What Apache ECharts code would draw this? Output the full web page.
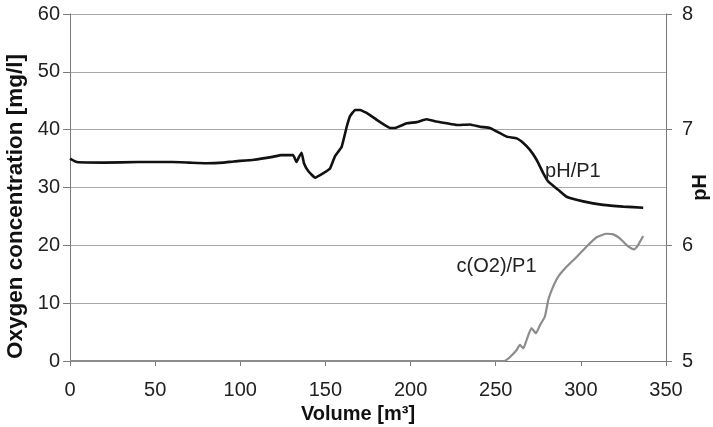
<!DOCTYPE html>
<html><head><meta charset="utf-8">
<script src="https://cdn.jsdelivr.net/npm/echarts@6/dist/echarts.min.js"></script>
<style>html,body{margin:0;padding:0;background:#fff}#c{width:713px;height:427px}</style>
</head><body><div id="c"></div>
<script>
// pH/P1 series (volume m3, pH)
const phVolume = [0,4,20,40,60,70,80,90,96,108,119,124,131,133,134.5,136,137.4,140,143.9,148.8,152.7,155.6,159.5,162.5,164.4,167.4,170.3,174.2,180.1,187.9,190.8,197.7,203.5,209.4,215.3,221.2,227.1,234.9,240.8,246.6,250.5,256.4,262.3,266.2,270.1,274,277.9,280.9,286.7,291.6,301.4,313.1,324.9,336.6];
const phValues = [6.750,6.720,6.715,6.720,6.720,6.715,6.710,6.715,6.725,6.740,6.765,6.780,6.780,6.720,6.765,6.800,6.710,6.640,6.585,6.625,6.665,6.770,6.850,7.025,7.115,7.170,7.170,7.145,7.085,7.015,7.015,7.055,7.065,7.090,7.070,7.055,7.040,7.045,7.025,7.015,6.985,6.940,6.925,6.885,6.825,6.740,6.625,6.550,6.480,6.420,6.380,6.350,6.335,6.325];
// c(O2)/P1 series (volume m3, mg/l)
const o2Volume = [0,50,100,150,200,255,258.4,262.3,264.2,266.2,268.1,271,273.6,276,278.9,280.9,283.8,286.7,291.6,297.5,303.4,309.2,315.1,319,322.9,327.8,331.2,333.7,336.6];
const o2Values = [0,0,0,0,0,0,0.7,1.9,2.8,2.2,3.6,5.7,4.8,6.2,7.7,10.6,12.9,14.6,16.3,18.0,19.8,21.4,22.0,21.9,21.2,19.8,19.3,20.1,21.6];
const xTitle = 'Volume [m³]';
const yLeftTitle = 'Oxygen concentration [mg/l]';
const yRightTitle = 'pH';
const phLabel = 'pH/P1';
const o2Label = 'c(O2)/P1';
const phLabelAt = [279, 6.635];
const o2LabelAt = [227, 16.4];

const font = 'Liberation Sans, Arial, sans-serif';
const chart = echarts.init(document.getElementById('c'));
chart.setOption({
  animation: false,
  textStyle: {fontFamily: font},
  grid: {left: 70, right: 47, top: 14, bottom: 66, containLabel: false, outerBoundsMode: 'none'},
  xAxis: {
    type: 'value', min: 0, max: 350, interval: 50,
    name: xTitle, nameLocation: 'middle', nameGap: 43, nameMoveOverlap: false,
    nameTextStyle: {fontFamily: font, fontSize: 20, fontWeight: 'bold', color: '#111', padding: [0, 20, 0, 0]},
    axisLine: {show: true, lineStyle: {color: '#7a7a7a', width: 1}},
    axisTick: {show: true, length: 5, lineStyle: {color: '#7a7a7a'}},
    axisLabel: {fontFamily: font, fontSize: 20, color: '#222', margin: 19},
    splitLine: {show: false}
  },
  yAxis: [{
    type: 'value', min: 0, max: 60, interval: 10, position: 'left',
    name: yLeftTitle, nameLocation: 'middle', nameGap: 43, nameRotate: 90, nameMoveOverlap: false,
    nameTextStyle: {fontFamily: font, fontSize: 22.5, fontWeight: 'bold', color: '#111', padding: [0, 38, 0, 0]},
    axisLine: {show: true, lineStyle: {color: '#7a7a7a', width: 1}},
    axisTick: {show: true, length: 7, lineStyle: {color: '#7a7a7a'}},
    axisLabel: {fontFamily: font, fontSize: 20, color: '#222', margin: 10},
    splitLine: {show: true, lineStyle: {color: '#a8a8a8', width: 1}}
  }, {
    type: 'value', min: 5, max: 8, interval: 1, position: 'right',
    name: yRightTitle, nameLocation: 'middle', nameGap: 24, nameRotate: 90, nameMoveOverlap: false,
    nameTextStyle: {fontFamily: font, fontSize: 20, fontWeight: 'bold', color: '#111'},
    axisLine: {show: true, lineStyle: {color: '#7a7a7a', width: 1}},
    axisTick: {show: true, length: 6, lineStyle: {color: '#7a7a7a'}},
    axisLabel: {fontFamily: font, fontSize: 20, color: '#222', margin: 16},
    splitLine: {show: false}
  }],
  series: [{
    name: o2Label, type: 'line', yAxisIndex: 0, symbol: 'none', smooth: 0.15,
    data: o2Volume.map((v, i) => [v, o2Values[i]]),
    lineStyle: {color: '#8c8c8c', width: 2.2},
    markPoint: {
      symbol: 'circle', symbolSize: 0,
      label: {show: true, position: 'right', distance: 0, formatter: o2Label, fontFamily: font, fontSize: 20, color: '#222'},
      data: [{coord: o2LabelAt}]
    },
    z: 3
  }, {
    name: phLabel, type: 'line', yAxisIndex: 1, symbol: 'none', smooth: 0.1,
    data: phVolume.map((v, i) => [v, phValues[i]]),
    lineStyle: {color: '#111', width: 2.6},
    markPoint: {
      symbol: 'circle', symbolSize: 0,
      label: {show: true, position: 'right', distance: 0, formatter: phLabel, fontFamily: font, fontSize: 20, color: '#222'},
      data: [{coord: phLabelAt}]
    },
    z: 4
  }]
});
</script></body></html>
